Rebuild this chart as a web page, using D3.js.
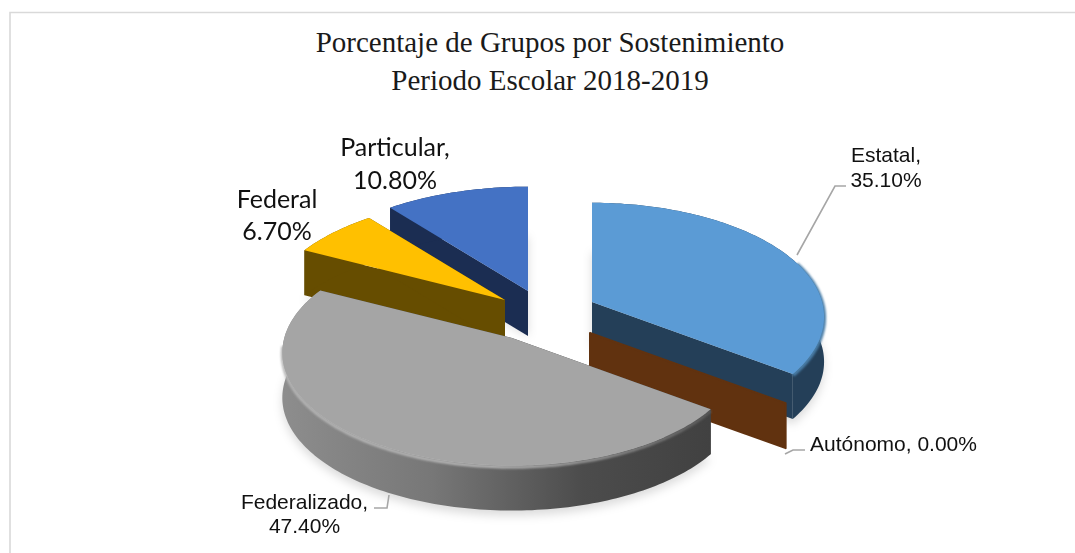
<!DOCTYPE html>
<html>
<head>
<meta charset="utf-8">
<script src="https://cdn.jsdelivr.net/npm/d3@7"></script>
<style>
  html, body { margin: 0; background: #fff; }
  svg { display: block; }
</style>
</head>
<body>
<div id="chart"></div>
<script>
// data
const categories = ["Estatal", "Autónomo", "Federalizado", "Federal", "Particular"];
const percents = [35.1, 0, 47.4, 6.7, 10.8];
const titleLines = ["Porcentaje de Grupos por Sostenimiento", "Periodo Escolar 2018-2019"];

const width = 1075, height = 553;

// pie geometry: each slice is pulled out on its own, k trims its radius a little
const rx = 236, ry = 115, persp = 0.13, depth = 45;
const apex = {
  "Estatal": [592, 302],
  "Autónomo": [590, 333],
  "Federalizado": [512, 338],
  "Federal": [505, 300],
  "Particular": [528, 291]
};
const k = { "Estatal": 0.975, "Autónomo": 0.95, "Federalizado": 0.965, "Federal": 1.01, "Particular": 1.025 };
const colors = {
  "Estatal": { top: "#5b9bd5", wall: "#243f58" },
  "Autónomo": { top: "#61320f", wall: "#61320f" },
  "Federalizado": { top: "#a5a5a5", wall: "url(#greyWall)" },
  "Federal": { top: "#ffc000", wall: "#664d00" },
  "Particular": { top: "#4472c4", wall: "#1b2d52" }
};

const svg = d3.select("#chart").append("svg")
    .attr("width", width)
    .attr("height", height);

const defs = svg.append("defs");
defs.append("filter").attr("id", "soft")
    .attr("x", "-20%").attr("y", "-20%").attr("width", "140%").attr("height", "140%")
  .append("feGaussianBlur").attr("stdDeviation", 5);
defs.append("filter").attr("id", "rimBlur")
    .attr("filterUnits", "userSpaceOnUse")
    .attr("x", 0).attr("y", 0).attr("width", width).attr("height", height)
  .append("feGaussianBlur").attr("stdDeviation", 1.2);

function hGrad(id, x1, x2, stops) {
  const g = defs.append("linearGradient").attr("id", id)
      .attr("gradientUnits", "userSpaceOnUse")
      .attr("x1", x1).attr("x2", x2).attr("y1", 0).attr("y2", 0);
  stops.forEach(s => g.append("stop").attr("offset", s[0]).attr("stop-color", s[1]));
}
hGrad("greyWall", 283, 711, [[0, "#8d8d8d"], [0.35, "#777"], [0.7, "#4c4c4c"], [1, "#414141"]]);
hGrad("greyRim", 283, 711, [[0, "#b5b5b5"], [0.5, "#b5b5b5"], [0.75, "#909090"], [1, "#5a5a5a"]]);

// frame: only top and left show in the reference
svg.append("path")
    .attr("d", `M10,553V12.5H1075`)
    .attr("fill", "none")
    .attr("stroke", "#d9d9d9")
    .attr("stroke-width", 1.6);

// titles
svg.append("g").selectAll("text")
  .data(titleLines)
  .join("text")
    .attr("x", 550)
    .attr("y", (d, i) => 52 + i * 38)
    .attr("text-anchor", "middle")
    .attr("font-family", "'Liberation Serif', serif")
    .attr("font-size", 29)
    .attr("fill", "#1a1a1a")
    .text(d => d);

// angle -> screen, with the back of the pie a bit smaller
function project(name, a) {
  const s = k[name] / (1 + persp * Math.cos(a));
  return [apex[name][0] + rx * Math.sin(a) * s,
          apex[name][1] - ry * Math.cos(a) * s];
}

const line = d3.line();
const slices = d3.pie().sort(null).value(d => d)(percents)
  .map((d, i) => ({ name: categories[i], start: d.startAngle, end: d.endAngle }));

function arcPts(name, start, end) {
  const n = Math.max(2, Math.ceil((end - start) / 0.02));
  return d3.range(n + 1).map(i => project(name, start + (end - start) * i / n));
}
const rim = d => arcPts(d.name, d.start, d.end);
const down = pts => pts.map(p => [p[0], p[1] + depth]);

// back to front, same order as the reference shows them
const order = ["Particular", "Federal", "Estatal", "Autónomo", "Federalizado"];
const drawn = order.map(n => slices.find(s => s.name === n));

// ground shadow
svg.append("g").attr("filter", "url(#soft)")
  .selectAll("path")
  .data(drawn.filter(d => d.end > d.start))
  .join("path")
    .attr("d", d => {
      const pts = down(rim(d));
      const c = apex[d.name];
      return line([[c[0], c[1] + depth], ...pts.map(p => [p[0], p[1] + 5])]) + "Z";
    })
    .attr("fill", "#000")
    .attr("opacity", 0.14);

const g = svg.append("g").selectAll("g")
  .data(drawn)
  .join("g");

g.each(function(d) {
  const el = d3.select(this);
  const c = colors[d.name];
  const a = apex[d.name];
  const pts = rim(d);
  const first = pts[0], last = pts[pts.length - 1];

  // the zero slice only shows its cut wall
  if (d.end === d.start) {
    el.append("path")
        .attr("d", line([a, first, [first[0], first[1] + depth], [a[0], a[1] + depth]]) + "Z")
        .attr("fill", c.wall)
        .attr("stroke", c.wall)
        .attr("stroke-width", 2)
        .attr("stroke-linejoin", "round");
    return;
  }

  // two cut walls, then the outer wall
  [first, last].forEach(p => {
    el.append("path")
        .attr("d", line([a, p, [p[0], p[1] + depth], [a[0], a[1] + depth]]) + "Z")
        .attr("fill", d.name === "Federalizado" ? "#414141" : c.wall);
  });
  el.append("path")
      .attr("d", line([...pts, ...down(pts).reverse()]) + "Z")
      .attr("fill", c.wall);

  // soft bevel where the top meets the wall, only on the side that shows a wall
  if (d.name === "Federalizado") {
    el.append("path")
        .attr("d", line(arcPts(d.name, d.start, 4.65).map(p => [p[0], p[1] + 1.5])))
        .attr("fill", "none")
        .attr("stroke", "url(#greyRim)")
        .attr("stroke-width", 3)
        .attr("filter", "url(#rimBlur)");
  }
  if (d.name === "Estatal") {
    el.append("path")
        .attr("d", line(arcPts(d.name, 1.2, d.end).map(p => [p[0], p[1] + 1])))
        .attr("fill", "none")
        .attr("stroke", "#4a7ea8")
        .attr("stroke-width", 4)
        .attr("filter", "url(#rimBlur)");
  }

  el.append("path")
      .attr("d", line([a, ...pts]) + "Z")
      .attr("fill", c.top);
});

// leader lines
const leaders = [
  [[797, 255], [835, 186], [846, 186]],
  [[785, 454], [793, 450], [805, 450]],
  [[389, 495], [387, 508], [374, 508]]
];
svg.append("g").selectAll("path")
  .data(leaders)
  .join("path")
    .attr("d", d => line(d))
    .attr("fill", "none")
    .attr("stroke", "#a6a6a6")
    .attr("stroke-width", 1.6);

// data labels
const sans = "'Liberation Sans', Arial, sans-serif";
const calibri = "Lato, 'Open Sans', sans-serif";
const fmt = v => d3.format(".2f")(v) + "%";
const pct = n => fmt(percents[categories.indexOf(n)]);
const labels = [
  { lines: ["Estatal,", pct("Estatal")], x: 886, y: 162, lh: 25, font: sans, size: 21 },
  { lines: ["Autónomo, " + pct("Autónomo")], x: 893.5, y: 451, lh: 0, font: sans, size: 21 },
  { lines: ["Federalizado,", pct("Federalizado")], x: 304.5, y: 509, lh: 24, font: sans, size: 21 },
  { lines: ["Federal", pct("Federal")], x: 277, y: 208, lh: 32, font: calibri, size: 25 },
  { lines: ["Particular,", pct("Particular")], x: 395, y: 156, lh: 33, font: calibri, size: 25 }
];
const lab = svg.append("g").selectAll("text")
  .data(labels)
  .join("text")
    .attr("text-anchor", "middle")
    .attr("font-family", d => d.font)
    .attr("font-size", d => d.size)
    .attr("fill", "#111");
lab.selectAll("tspan")
  .data(d => d.lines.map((t, i) => ({ t, x: d.x, y: d.y + i * d.lh })))
  .join("tspan")
    .attr("x", d => d.x)
    .attr("y", d => d.y)
    .text(d => d.t);
</script>
</body>
</html>
